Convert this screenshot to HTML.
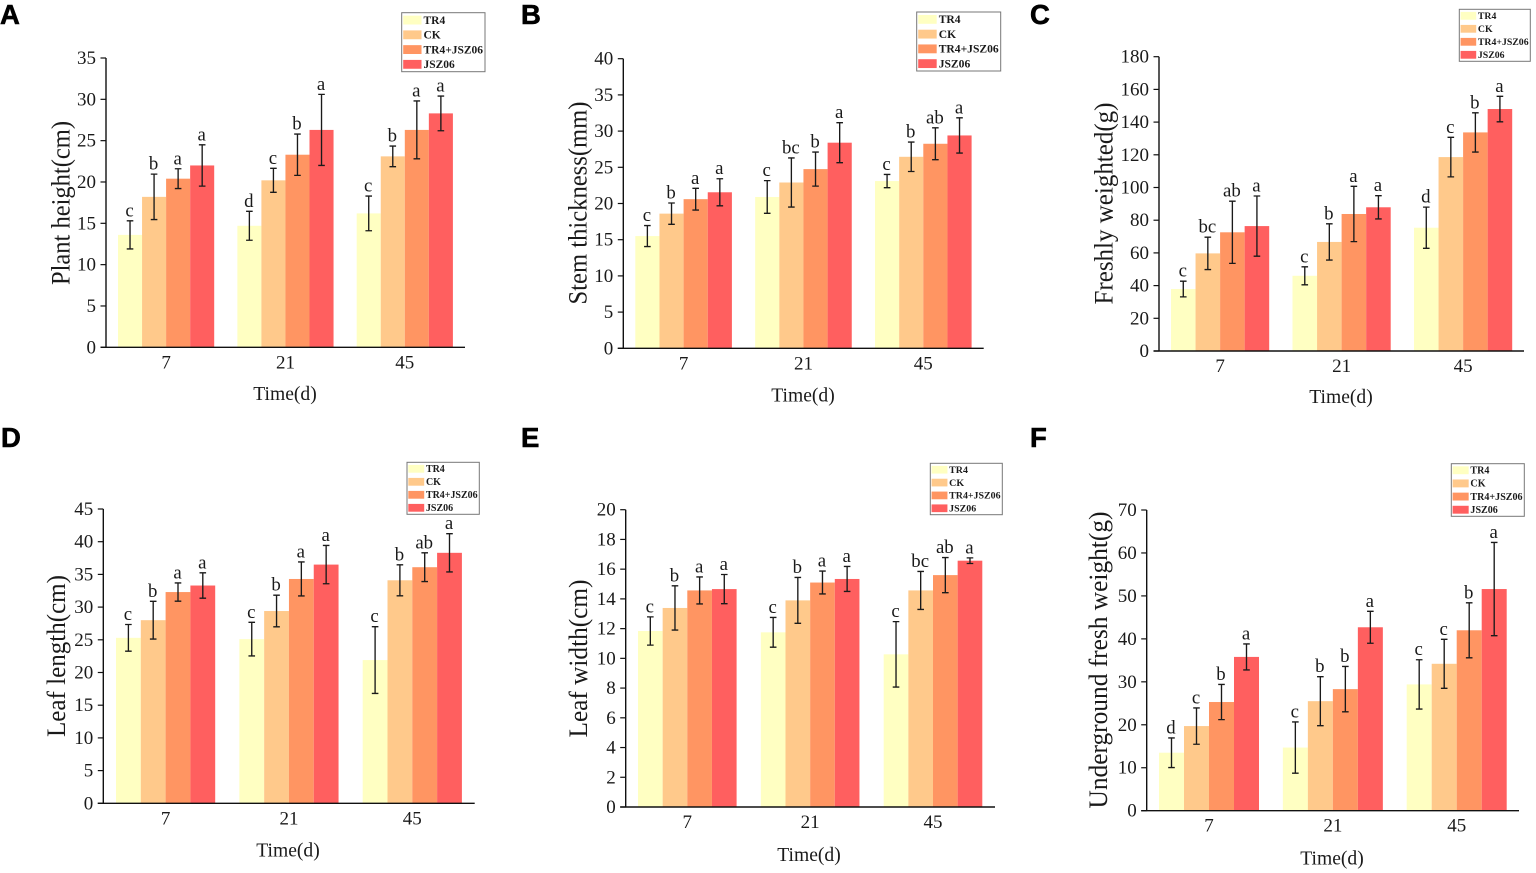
<!DOCTYPE html>
<html lang="en">
<head>
<meta charset="utf-8">
<title>Growth indices bar chart panels</title>
<style>
html,body{margin:0;padding:0;background:#fff;}
body{width:1536px;height:873px;overflow:hidden;}
svg{display:block;}
text{font-family:"Liberation Serif",serif;fill:#1a1a1a;}
</style>
</head>
<body>
<svg id="figure" xmlns="http://www.w3.org/2000/svg" width="1536" height="873" viewBox="0 0 1536 873"></svg>
<script>
const categories = ["7", "21", "45"];
const seriesNames = ["TR4", "CK", "TR4+JSZ06", "JSZ06"];
const seriesColors = ["#ffffc2", "#ffc98b", "#ff9562", "#ff5f5f"];

const ticksA = [0, 5, 10, 15, 20, 25, 30, 35];
const valuesA = [[13.6, 14.7, 16.2], [18.2, 20.2, 23.1], [20.4, 23.3, 26.3], [22, 26.3, 28.3]];
const errorsA = [[1.7, 1.75, 2.1], [2.75, 1.45, 1.25], [1.2, 2.5, 3.5], [2.5, 4.3, 2.1]];
const lettersA = [["c", "d", "c"], ["b", "c", "b"], ["a", "b", "a"], ["a", "a", "a"]];

const ticksB = [0, 5, 10, 15, 20, 25, 30, 35, 40];
const valuesB = [[15.5, 20.9, 23.1], [18.6, 22.9, 26.45], [20.6, 24.75, 28.25], [21.55, 28.4, 29.4]];
const errorsB = [[1.45, 2.26, 0.92], [1.47, 3.39, 2.03], [1.5, 2.35, 2.2], [1.87, 2.76, 2.44]];
const lettersB = [["c", "c", "c"], ["b", "bc", "b"], ["a", "b", "ab"], ["a", "a", "a"]];

const ticksC = [0, 20, 40, 60, 80, 100, 120, 140, 160, 180];
const valuesC = [[37.9, 46, 75.4], [59.7, 66.7, 118.6], [72.6, 83.8, 133.7], [76.4, 87.9, 148]];
const errorsC = [[4.8, 5.5, 12.6], [9.9, 11.1, 12.1], [19, 16.9, 12], [18.4, 7.1, 7.8]];
const lettersC = [["c", "c", "d"], ["bc", "b", "c"], ["ab", "a", "b"], ["a", "a", "a"]];

const ticksD = [0, 5, 10, 15, 20, 25, 30, 35, 40, 45];
const valuesD = [[25.3, 25.1, 21.9], [28, 29.4, 34.1], [32.3, 34.3, 36.1], [33.3, 36.5, 38.3]];
const errorsD = [[2.04, 2.57, 5.1], [2.88, 2.42, 2.37], [1.4, 2.6, 2.2], [1.94, 2.93, 2.93]];
const lettersD = [["c", "c", "c"], ["b", "b", "b"], ["a", "a", "ab"], ["a", "a", "a"]];

const ticksE = [0, 2, 4, 6, 8, 10, 12, 14, 16, 18, 20];
const valuesE = [[11.84, 11.75, 10.27], [13.39, 13.9, 14.57], [14.57, 15.1, 15.6], [14.66, 15.34, 16.57]];
const errorsE = [[0.95, 1.0, 2.2], [1.49, 1.54, 1.28], [0.91, 0.77, 1.18], [0.98, 0.84, 0.19]];
const lettersE = [["c", "c", "c"], ["b", "b", "bc"], ["a", "a", "ab"], ["a", "a", "a"]];

const ticksF = [0, 10, 20, 30, 40, 50, 60, 70];
const valuesF = [[13.5, 14.7, 29.4], [19.7, 25.5, 34.2], [25.3, 28.3, 42], [35.8, 42.7, 51.6]];
const errorsF = [[3.45, 5.97, 5.74], [4.23, 5.7, 5.7], [4.1, 5.28, 6.4], [3.03, 3.72, 10.86]];
const lettersF = [["d", "c", "c"], ["c", "b", "c"], ["b", "b", "b"], ["a", "a", "a"]];

const NS = "http://www.w3.org/2000/svg";
const figure = document.getElementById("figure");

function make(parent, tag, attrs, content) {
  const el = document.createElementNS(NS, tag);
  for (const k in attrs) el.setAttribute(k, attrs[k]);
  if (content !== undefined) el.textContent = content;
  parent.appendChild(el);
  return el;
}

function drawPanel(p) {
  const g = make(figure, "g", {});
  
  

  const yMax = p.ticks[p.ticks.length - 1];
  const yScale = function (v) { return p.y0 - (v / yMax) * (p.y0 - p.top); };
  const xScale = function (group, series) { return p.first + group * p.step + series * p.bw; };

  const letter = make(g, "text", {x: p.lx, y: p.ly, "font-size": 27.5, "font-weight": 700, stroke: "#000", "stroke-width": 0.6, style: 'font-family:"Liberation Sans",sans-serif;fill:#000'}, p.id);
  
  

  p.values.forEach(function (row, s) {
    row.forEach(function (v, c) {
      const bar = make(g, "rect", {x: xScale(c, s), y: yScale(v), width: p.bw, height: p.y0 - yScale(v), fill: seriesColors[s]});
      
      
    });
  });

  p.values.forEach(function (row, s) {
    row.forEach(function (v, c) {
      const cx = xScale(c, s) + p.bw / 2;
      const hi = yScale(v + p.errors[s][c]);
      const lo = yScale(v - p.errors[s][c]);
      const err = make(g, "path", {d: "M" + (cx - 3.3) + " " + hi + "H" + (cx + 3.3) + "M" + cx + " " + hi + "V" + lo + "M" + (cx - 3.3) + " " + lo + "H" + (cx + 3.3), stroke: "#1a1a1a", "stroke-width": 1.35, fill: "none"});
      
      
      const sig = make(g, "text", {x: cx - 0.5, y: hi - 4.5, "font-size": 18.8, "text-anchor": "middle"}, p.letters[s][c]);
      
      
    });
  });

  const yAxis = make(g, "line", {x1: p.axis, x2: p.axis, y1: p.top, y2: p.y0, stroke: "#111", "stroke-width": 1.4});
  
  
  const xAxis = make(g, "line", {x1: p.axis - 5.5, x2: p.right, y1: p.y0, y2: p.y0, stroke: "#111", "stroke-width": 1.4});
  
  

  p.ticks.forEach(function (t) {
    const mark = make(g, "line", {x1: p.axis - 5.5, x2: p.axis, y1: yScale(t), y2: yScale(t), stroke: "#111", "stroke-width": 1.2});
    
    
    const label = make(g, "text", {x: p.axis - 10, y: yScale(t) + 6, "font-size": 19, "text-anchor": "end"}, String(t));
    
    
  });

  categories.forEach(function (cat, c) {
    const label = make(g, "text", {x: xScale(c, 2), y: p.y0 + 21, "font-size": 19, "text-anchor": "middle"}, cat);
    
    
  });

  const xTitle = make(g, "text", {x: p.xtc, y: p.y0 + p.xtd, "font-size": 19.6, "text-anchor": "middle"}, "Time(d)");
  
  

  const yTitle = make(g, "text", {transform: "translate(" + p.ytx + "," + p.ytc + ") rotate(-90)", "font-size": 26.5, "text-anchor": "middle", textLength: p.ytl, lengthAdjust: "spacingAndGlyphs"}, p.yTitle);
  
  

  const legend = make(g, "g", {});
  
  
  const lw = p.leg[2] - p.leg[0];
  const lh = p.leg[3] - p.leg[1];
  const legendBox = make(legend, "rect", {x: p.leg[0], y: p.leg[1], width: lw, height: lh, fill: "#fff", stroke: "#777", "stroke-width": 1});
  
  
  seriesNames.forEach(function (name, s) {
    const cy = p.leg[1] + (s + 0.5) * lh / 4;
    const swatch = make(legend, "rect", {x: p.leg[0] + lw * 0.018, y: cy - lh * 0.075, width: lw * 0.22, height: lh * 0.15, fill: seriesColors[s]});
    
    
    const entry = make(legend, "text", {x: p.leg[0] + lw * 0.262, y: cy + lw * 0.045, "font-size": lw * 0.138, "font-weight": 700}, name);
    
    
  });
}

drawPanel({id: "A", lx: 0, ly: 24, ticks: ticksA, values: valuesA, errors: errorsA, letters: lettersA, axis: 106, y0: 347.3, top: 58, right: 465, first: 118, step: 119.35, bw: 24.05, yTitle: "Plant height(cm)", ytx: 69.5, ytc: 203, ytl: 164, xtc: 285, xtd: 52.5, leg: [401.7, 12.7, 485, 71.7]});
drawPanel({id: "B", lx: 521, ly: 24, ticks: ticksB, values: valuesB, errors: errorsB, letters: lettersB, axis: 623.3, y0: 348.3, top: 58.7, right: 983.7, first: 635.3, step: 119.85, bw: 24.15, yTitle: "Stem thickness(mm)", ytx: 586.5, ytc: 203, ytl: 203, xtc: 803, xtd: 53, leg: [916.7, 12, 1000.7, 71]});
drawPanel({id: "C", lx: 1030, ly: 24, ticks: ticksC, values: valuesC, errors: errorsC, letters: lettersC, axis: 1159, y0: 351, top: 56.7, right: 1524, first: 1171, step: 121.5, bw: 24.55, yTitle: "Freshly weighted(g)", ytx: 1112.5, ytc: 203.5, ytl: 202, xtc: 1341, xtd: 52, leg: [1459.3, 9.3, 1530.3, 61.3]});
drawPanel({id: "D", lx: 1, ly: 447, ticks: ticksD, values: valuesD, errors: errorsD, letters: lettersD, axis: 103.3, y0: 803.3, top: 509, right: 474.7, first: 116, step: 123.35, bw: 24.8, yTitle: "Leaf length(cm)", ytx: 65, ytc: 656, ytl: 162, xtc: 288, xtd: 53, leg: [407, 462.3, 479.3, 514.3]});
drawPanel({id: "E", lx: 521, ly: 447, ticks: ticksE, values: valuesE, errors: errorsE, letters: lettersE, axis: 625.7, y0: 807, top: 509.7, right: 995, first: 638, step: 122.85, bw: 24.65, yTitle: "Leaf width(cm)", ytx: 587, ytc: 658.5, ytl: 158, xtc: 809, xtd: 54, leg: [930.3, 463.3, 1002.3, 514.7]});
drawPanel({id: "F", lx: 1030, ly: 447, ticks: ticksF, values: valuesF, errors: errorsF, letters: lettersF, axis: 1146.7, y0: 810.7, top: 510, right: 1519, first: 1159, step: 123.85, bw: 25, yTitle: "Underground fresh weight(g)", ytx: 1107, ytc: 660, ytl: 297, xtc: 1332, xtd: 54, leg: [1451.3, 463.7, 1524.3, 516.3]});
</script>
</body>
</html>
